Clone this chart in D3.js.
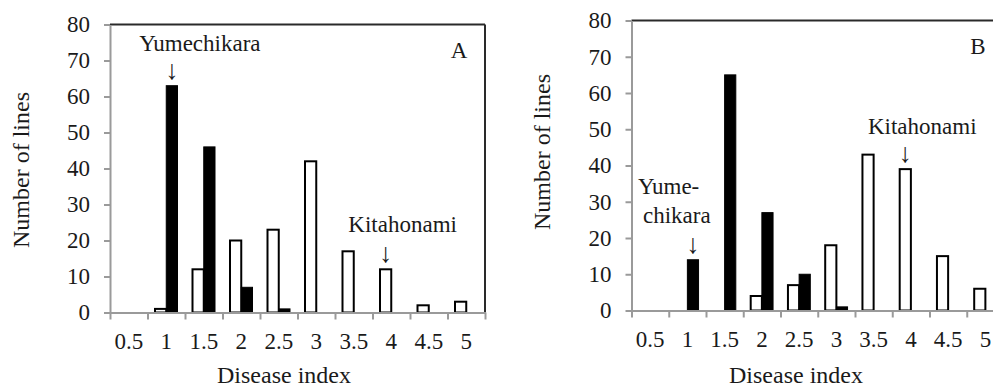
<!doctype html>
<meta charset="utf-8">
<style>
body { margin: 0; background: #fff; }
.axis path, .axis line { stroke: #9a9a9a; stroke-width: 2; }
</style>
<body>
<div id="viz"></div>
<script src="https://cdnjs.cloudflare.com/ajax/libs/d3/7.8.5/d3.min.js"></script>
<script>
// disease index classes and counts of lines
var categories = ["0.5", "1", "1.5", "2", "2.5", "3", "3.5", "4", "4.5", "5"];
var yTicks = [0, 10, 20, 30, 40, 50, 60, 70, 80];
// panel A
var aWhite = [0, 1, 12, 20, 23, 42, 17, 12, 2, 3];
var aBlack = [0, 63, 46, 7, 1, 0, 0, 0, 0, 0];
// panel B
var bWhite = [0, 0, 0, 4, 7, 18, 43, 39, 15, 6];
var bBlack = [0, 14, 65, 27, 10, 1, 0, 0, 0, 0];

var FONT = "'Liberation Serif'";
var INK = "#1a1a1a";

var svg = d3.select("#viz").append("svg").attr("width", 993).attr("height", 387);

function label(g, size) {
    return g.append("text").style("font-family", FONT).style("font-size", size + "px").attr("fill", INK);
}

function panel(o) {
    var g = svg.append("g");
    var x = d3.scaleBand().domain(categories).range([o.left, o.right]);
    var bw = x.bandwidth();
    var x1 = d3.scaleBand().domain(["w", "b"]).range([bw * 0.2, bw * 0.8]);
    var y = d3.scaleLinear().domain([0, 80]).range([o.bottom, o.top]);
    var edges = d3.scaleLinear().domain([0, categories.length]).range([o.left, o.right]);

    // frame top / right
    g.append("line").attr("x1", o.left).attr("x2", o.right).attr("y1", y(80)).attr("y2", y(80))
        .attr("stroke", "#2a2a2a").attr("stroke-width", 2);
    g.append("line").attr("x1", o.right).attr("x2", o.right).attr("y1", y(80)).attr("y2", y(0))
        .attr("stroke", "#2a2a2a").attr("stroke-width", 2);

    var rows = categories.map(function(c, i) { return {c: c, w: o.white[i], b: o.black[i]}; });

    g.selectAll("rect.w").data(rows.filter(function(d) { return d.w > 0; })).enter().append("rect")
        .attr("x", function(d) { return x(d.c) + x1("w"); })
        .attr("y", function(d) { return y(d.w); })
        .attr("width", x1.bandwidth())
        .attr("height", function(d) { return y(0) - y(d.w); })
        .attr("fill", "#fff").attr("stroke", "#000").attr("stroke-width", 2);
    g.selectAll("rect.b").data(rows.filter(function(d) { return d.b > 0; })).enter().append("rect")
        .attr("x", function(d) { return x(d.c) + x1("b"); })
        .attr("y", function(d) { return y(d.b); })
        .attr("width", x1.bandwidth())
        .attr("height", function(d) { return y(0) - y(d.b); })
        .attr("fill", "#000").attr("stroke", "#000").attr("stroke-width", 1);

    // axes
    g.append("g").attr("class", "axis").attr("transform", "translate(0," + y(0) + ")")
        .call(d3.axisBottom(edges).tickValues(d3.range(categories.length + 1)).tickFormat("").tickSize(7).tickSizeOuter(0));
    g.append("g").attr("class", "axis").attr("transform", "translate(0," + y(0) + ")")
        .call(d3.axisBottom(x).tickSize(0).tickPadding(20))
        .call(function(s) { s.select(".domain").remove(); });
    g.append("g").attr("class", "axis").attr("transform", "translate(" + o.left + ",0)")
        .call(d3.axisLeft(y).tickValues(yTicks).tickSize(6).tickPadding(14).tickSizeOuter(0));
    g.selectAll(".axis").attr("font-family", null).attr("font-size", null);
    g.selectAll(".axis text").style("font-family", FONT).style("font-size", "23px").attr("fill", INK);

    // titles
    label(g, 24).attr("transform", "translate(" + o.ylabX + "," + o.ylabY + ") rotate(-90)")
        .attr("text-anchor", "middle").text("Number of lines");
    label(g, 24).attr("x", o.xlabX).attr("y", 383).attr("text-anchor", "middle").text("Disease index");
    label(g, 23).attr("x", o.right - 26).attr("y", y(80) + 33).attr("text-anchor", "middle").text(o.tag);

    // cultivar notes with arrows
    o.notes.forEach(function(n) {
        var i = categories.indexOf(n.cat);
        var v = n.series === "w" ? o.white[i] : o.black[i];
        var cx = x(n.cat) + x1(n.series) + x1.bandwidth() / 2;
        label(g, 27).attr("x", cx).attr("y", y(v) - 7).attr("text-anchor", "middle").text("\u2193");
        n.lines.forEach(function(t, k) {
            label(g, 23).attr("x", cx + n.dx[k]).attr("y", y(v) - n.dy + k * 29)
                .attr("text-anchor", n.anchor).text(t);
        });
    });
}

panel({
    left: 110, right: 485, top: 24.5, bottom: 312.5,
    white: aWhite, black: aBlack, tag: "A",
    ylabX: 29, ylabY: 170, xlabX: 284,
    notes: [
        {cat: "1", series: "b", lines: ["Yumechikara"], anchor: "middle", dx: [28], dy: 35},
        {cat: "4", series: "w", lines: ["Kitahonami"], anchor: "middle", dx: [17], dy: 37}
    ]
});
panel({
    left: 631.5, right: 1004, top: 20.5, bottom: 310.5,
    white: bWhite, black: bBlack, tag: "B",
    ylabX: 550, ylabY: 152, xlabX: 796,
    notes: [
        {cat: "1", series: "b", lines: ["Yume-", "chikara"], anchor: "start", dx: [-55, -50], dy: 66},
        {cat: "4", series: "w", lines: ["Kitahonami"], anchor: "middle", dx: [17], dy: 35}
    ]
});
</script>
</body>
</html>
